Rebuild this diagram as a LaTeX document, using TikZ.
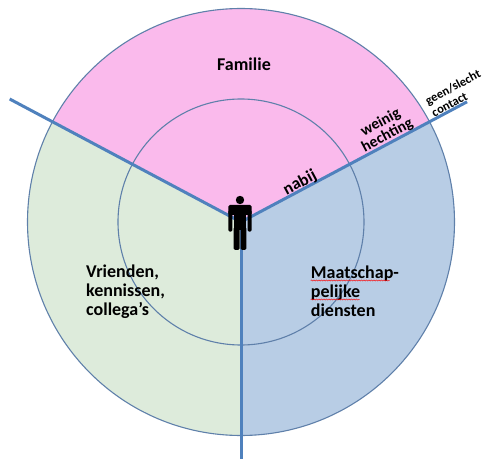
\documentclass[tikz,border=0pt]{standalone}
\usepackage{fontspec}
\setmainfont{Carlito}
\usetikzlibrary{calc,decorations.pathmorphing}
\definecolor{famfill}{RGB}{250,186,236}
\definecolor{vrfill}{RGB}{221,235,219}
\definecolor{mdfill}{RGB}{184,205,229}
\definecolor{spoke}{RGB}{79,129,189}
\definecolor{ring}{RGB}{95,128,170}
\tikzset{
  spokeline/.style={draw=spoke,line width=3pt},
  ringline/.style={draw=ring,line width=1.1pt,circle,inner sep=0pt,fill=none},
  bigtxt/.style={font=\bfseries\fontsize{18}{19}\selectfont,inner sep=0pt,text=black},
  midtxt/.style={font=\bfseries\fontsize{15.5}{14.5}\selectfont,inner sep=0pt,text=black,rotate=28},
  smalltxt/.style={font=\bfseries\fontsize{12.5}{13.5}\selectfont,inner sep=0pt,text=black,rotate=28},
  spell/.style={draw=red,line width=0.5pt,decorate,decoration={snake,amplitude=0.6pt,segment length=2.5pt}},
  person/.style={fill=black,rounded corners=1.5pt}
}
\begin{document}
\begin{tikzpicture}[x=1pt,y=1pt]
\useasboundingbox (0,0) rectangle (491,459);
\coordinate (c) at (241,237);
% sectors
\fill[famfill] (c) -- ++(28:213.5) arc[start angle=28,end angle=152,radius=213.5] -- cycle;
\fill[vrfill] (c) -- ++(152:213.5) arc[start angle=152,end angle=270,radius=213.5] -- cycle;
\fill[mdfill] (c) -- ++(-90:213.5) arc[start angle=-90,end angle=28,radius=213.5] -- cycle;
% rings
\node[ringline,minimum size=427pt] (outer) at (c) {};
\node[ringline,minimum size=246pt] (inner) at (c) {};
% spokes
\path (c) ++(152:262) coordinate (eL);
\path (c) ++(28:256) coordinate (eR);
\path (c) ++(-90:237) coordinate (eD);
\draw[spokeline] (c) -- (eL);
\draw[spokeline] (c) -- (eR);
\draw[spokeline] (c) -- (eD);
% person
\fill[black] (240,259) circle[radius=4.2];
\fill[person] (228.3,254) rectangle (251.7,244);
\fill[person] (228.3,249) rectangle (232.4,227.3);
\fill[person] (247.6,249) rectangle (251.7,227.3);
\fill[black] (233.6,249) rectangle (246.4,229);
\fill[person] (233.6,232) rectangle (239.5,209);
\fill[person] (240.5,232) rectangle (246.4,209);
% texts
\node[bigtxt,anchor=base] (fam) at (244,388.3) {Familie};
\node[bigtxt,anchor=base west,align=left] (vr) at (86,144) {Vrienden,\\kennissen,\\collega’s};
\node[bigtxt,anchor=base west,align=left] (md) at (310.7,142.5) {Maatschap-\\pelijke\\diensten};
\node[midtxt,font=\bfseries\fontsize{17}{18}\selectfont] (nab) at (300,276) {nabij};
\node[midtxt,align=center] (wh) at (384,330) {weinig\\hechting};
\node[smalltxt,align=left] (gc) at (456,366) {geen/slecht\\contact};
% spell-check underline
\draw[spell] ($(md.base west)+(0,36)$) -- ++(79,0);
\draw[spell] ($(md.base west)+(0,17)$) -- ++(49,0);
\end{tikzpicture}
\end{document}
